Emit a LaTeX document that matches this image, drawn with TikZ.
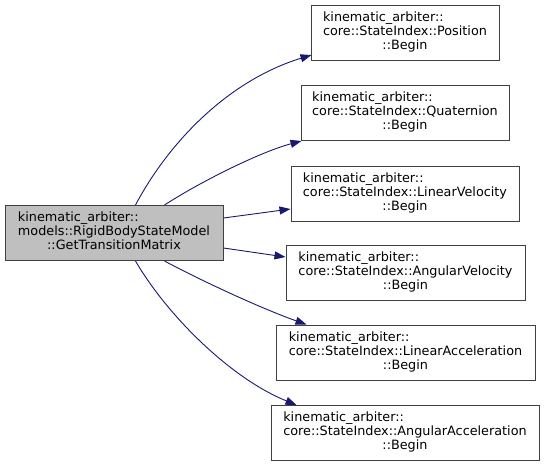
\documentclass[tikz,border=0pt]{standalone}
\usepackage{fontspec}
\setmainfont{DejaVu Sans}
\usetikzlibrary{arrows.meta}
\definecolor{edgeblue}{HTML}{191970}
\definecolor{boxline}{HTML}{404040}
\definecolor{mainfill}{HTML}{BFBFBF}
\newcommand{\dxlabel}[3]{\begin{tabular}{@{}l@{}}#1\\#2\\\multicolumn{1}{@{}c@{}}{#3}\end{tabular}}
\begin{document}
\begin{tikzpicture}[x=1pt,y=-1pt,
  dbox/.style={draw=boxline,line width=1pt,fill=white,inner sep=0pt,
    font=\fontsize{12.8}{14}\selectfont,
    minimum width=#1, minimum height=55pt},
  dmain/.style={dbox=#1,fill=mainfill},
  dedge/.style={draw=edgeblue,line width=0.9pt,-{Triangle[length=11pt,width=8pt]}}]
\useasboundingbox (0,0) rectangle (544,467);
\node[dmain=218pt] (main) at (114,233) {\dxlabel{kinematic\_arbiter::}{models::RigidBodyStateModel}{::GetTransitionMatrix}};
\node[dbox=188pt] (pos) at (405,33) {\dxlabel{kinematic\_arbiter::}{core::StateIndex::Position}{::Begin}};
\node[dbox=208pt] (quat) at (405,113) {\dxlabel{kinematic\_arbiter::}{core::StateIndex::Quaternion}{::Begin}};
\node[dbox=228pt] (lv) at (405,193.5) {\dxlabel{kinematic\_arbiter::}{core::StateIndex::LinearVelocity}{::Begin}};
\node[dbox=239pt] (av) at (405.5,273) {\dxlabel{kinematic\_arbiter::}{core::StateIndex::AngularVelocity}{::Begin}};
\node[dbox=259pt] (la) at (405.5,352.5) {\dxlabel{kinematic\_arbiter::}{core::StateIndex::LinearAcceleration}{::Begin}};
\node[dbox=268pt] (aa) at (405,433) {\dxlabel{kinematic\_arbiter::}{core::StateIndex::AngularAcceleration}{::Begin}};
\draw[dedge] ([xshift=131pt]main.north west) .. controls (170,140) and (230,80) .. ([xshift=1pt,yshift=6pt]pos.south west);
\draw[dedge] ([xshift=160pt]main.north west) .. controls (200,182) and (260,152) .. ([xshift=1pt,yshift=0pt]quat.south west);
\draw[dedge] ([yshift=15pt]main.east) -- ([yshift=-15.5pt]lv.west);
\draw[dedge] ([yshift=-15pt]main.east) -- ([yshift=16pt]av.west);
\draw[dedge] ([xshift=160pt]main.south west) .. controls (200,280) and (260,308) .. ([xshift=31pt]la.north west);
\draw[dedge] ([xshift=131pt]main.south west) .. controls (167,315) and (230,378) .. ([xshift=26pt]aa.north west);
\end{tikzpicture}
\end{document}
